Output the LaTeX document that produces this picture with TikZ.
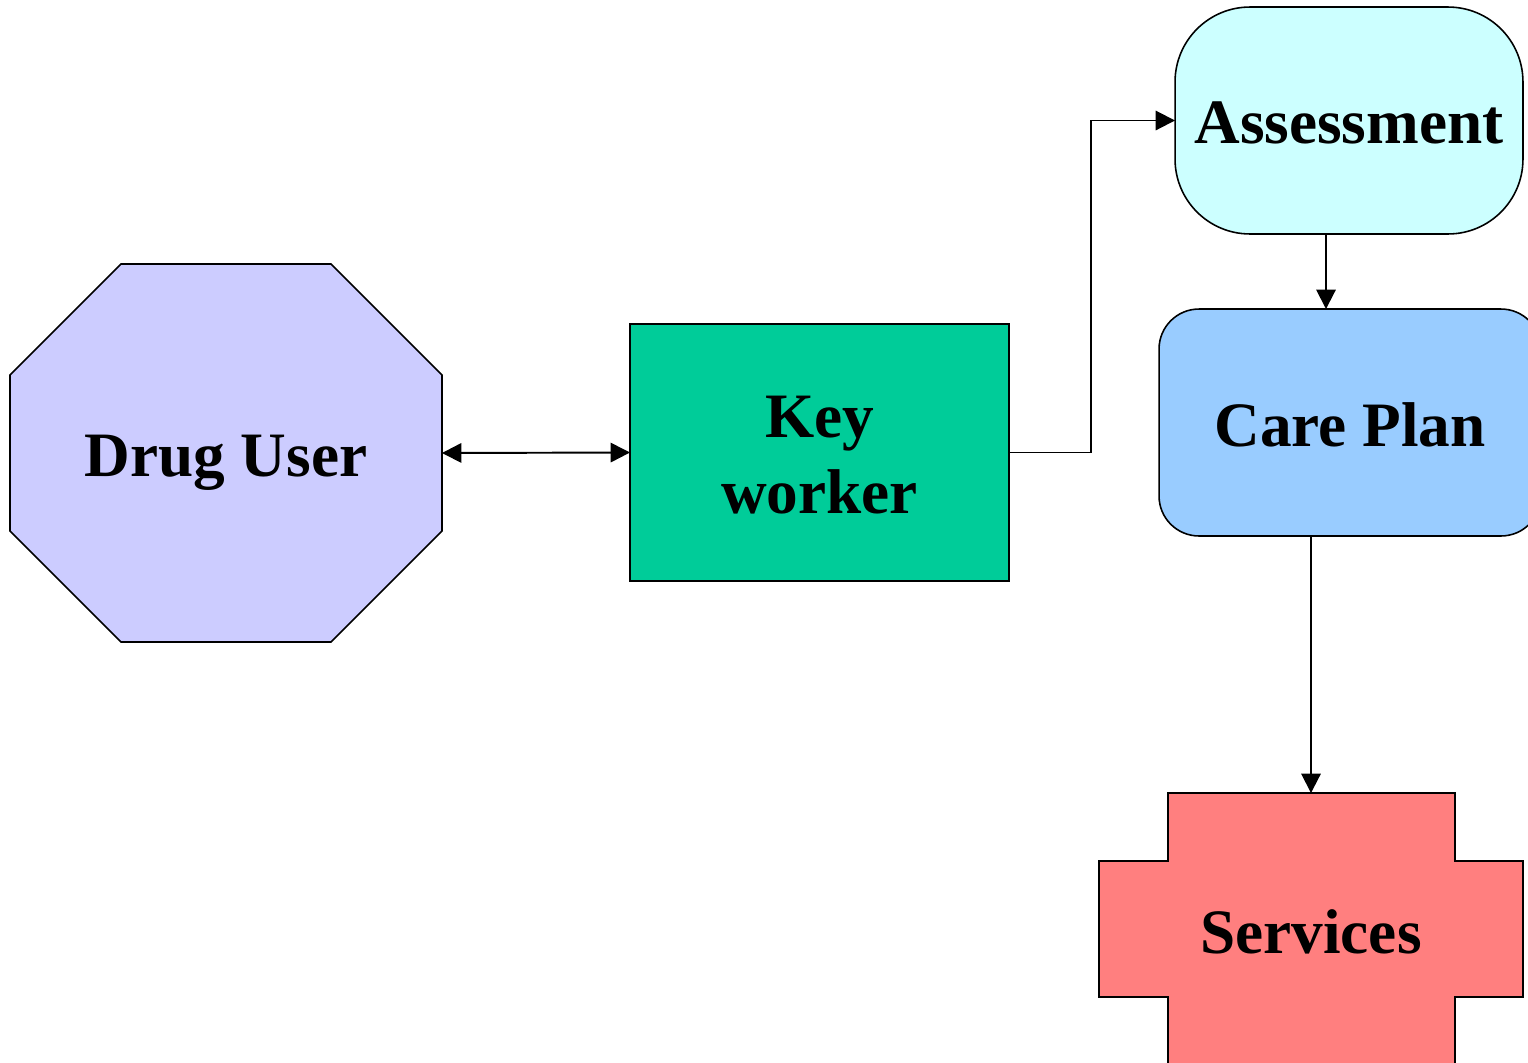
\documentclass[tikz,border=0pt]{standalone}
\usepackage{fontspec}
\setmainfont{Liberation Serif}
\usetikzlibrary{arrows.meta}
\definecolor{userfill}{HTML}{CCCCFF}
\definecolor{keyfill}{HTML}{00CC99}
\definecolor{assessfill}{HTML}{CCFFFF}
\definecolor{carefill}{HTML}{99CCFF}
\definecolor{servfill}{HTML}{FF7F7F}
\tikzset{
  label text/.style={font=\bfseries\fontsize{36}{43}\selectfont, align=center, inner sep=0pt, outer sep=0pt},
  box/.style={label text, draw=black, line width=0.9pt},
  outline/.style={draw=black, line width=0.9pt},
  arr/.style={line width=1.1pt, -{Triangle[length=11pt,width=11pt]}},
  dblarr/.style={line width=1.1pt, {Triangle[length=11pt,width=11pt]}-{Triangle[length=11pt,width=11pt]}}
}
% lower a label inside its shape, keeping the node's own size
\newcommand{\drop}[2]{\raisebox{-#1}[\height][\depth]{#2}}
\begin{document}
\begin{tikzpicture}[x=0.02cm, y=-0.02cm]
\useasboundingbox (0,0) rectangle (1528,1062);
\clip (0,0) rectangle (1528,1062);

% Drug User octagon
\path[outline, fill=userfill] (121,264) -- (331,264) -- (442,375) -- (442,531)
  -- (331,642) -- (121,642) -- (10,531) -- (10,375) -- cycle;
\node[label text, minimum width=8.64cm, minimum height=7.56cm] (user) at (226,453) {\drop{0.2cm}{Drug User}};

% Key worker
\node[box, fill=keyfill, minimum width=7.58cm, minimum height=5.14cm] (keyw) at (819.5,452.5) {\drop{0.16cm}{\begin{tabular}{@{}c@{}}Key\\worker\end{tabular}}};

% Assessment
\node[box, fill=assessfill, rounded corners=1.5cm, minimum width=6.96cm, minimum height=4.54cm] (assess) at (1349,120.5) {\drop{0.05cm}{Assessment}};

% Care Plan
\node[box, fill=carefill, rounded corners=0.8cm, minimum width=7.64cm, minimum height=4.54cm] (care) at (1350,422.5) {\drop{0.05cm}{Care Plan}};

% Services cross
\path[outline, fill=servfill] (1168,793) -- (1455,793) -- (1455,861) -- (1523,861)
  -- (1523,997) -- (1455,997) -- (1455,1075) -- (1168,1075) -- (1168,997)
  -- (1099,997) -- (1099,861) -- (1168,861) -- cycle;
\node[label text, minimum width=5.74cm, minimum height=5.44cm] (serv) at (1311,929) {\drop{0.06cm}{Services}};

% Connectors
\coordinate (ax) at (1326,0);
\draw[dblarr] (user.east) -- (keyw.west);
\draw[arr] (keyw.east) -- ++(82,0) |- (assess.west);
\draw[arr] (assess.south -| ax) -- (care.north -| ax);
\draw[arr] (care.south -| serv.north) -- (serv.north);
\end{tikzpicture}
\end{document}
